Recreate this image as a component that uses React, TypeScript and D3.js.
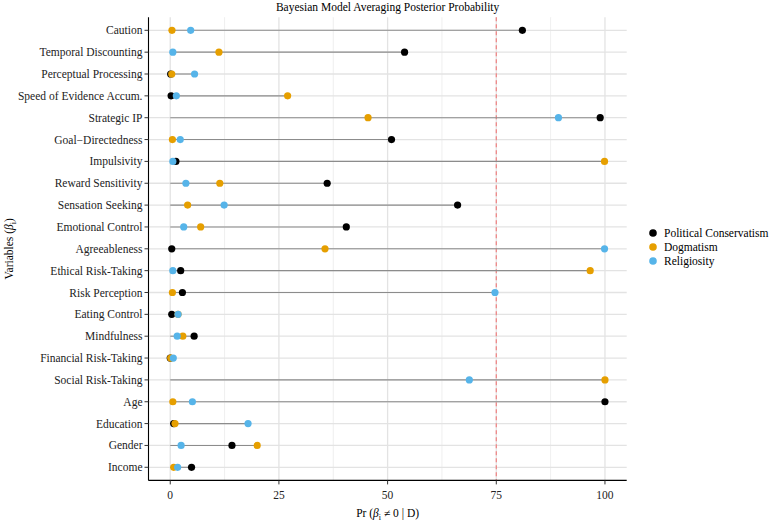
import React from "react";
import * as d3 from "d3";

const categories = [
  "Caution", "Temporal Discounting", "Perceptual Processing", "Speed of Evidence Accum.",
  "Strategic IP", "Goal\u2212Directedness", "Impulsivity", "Reward Sensitivity",
  "Sensation Seeking", "Emotional Control", "Agreeableness", "Ethical Risk-Taking",
  "Risk Perception", "Eating Control", "Mindfulness", "Financial Risk-Taking",
  "Social Risk-Taking", "Age", "Education", "Gender", "Income",
];
const conservatism: (number | null)[] = [81.0, 53.9, 0.1, 0.2, 98.9, 50.9, 1.3, 36.1, 66.1, 40.5, 0.35, 2.4, 2.8, 0.35, 5.5, 0.0, null, 100, 0.8, 14.2, 4.9];
const dogmatism: (number | null)[] = [0.4, 11.2, 0.35, 27.0, 45.5, 0.5, 99.9, 11.4, 4.0, 7.0, 35.6, 96.6, 0.5, 1.8, 2.9, 0.1, 100, 0.6, 1.1, 20.0, 0.8];
const religiosity: (number | null)[] = [4.7, 0.6, 5.6, 1.4, 89.3, 2.3, 0.6, 3.6, 12.4, 3.1, 99.9, 0.6, 74.7, 1.8, 1.6, 0.7, 68.8, 5.1, 17.9, 2.5, 1.7];
const seriesNames = ["Political Conservatism", "Dogmatism", "Religiosity"];
const seriesColors = ["#000000", "#E69F00", "#56B4E9"];
const xTicks = [0, 25, 50, 75, 100];
const xMinor = [12.5, 37.5, 62.5, 87.5];
const threshold = 75;

const FONT = "'Liberation Serif', 'Times New Roman', serif";

export default function App() {
  const W = 770, H = 525;
  const left = 148.5, right = 626.7, top = 17.2, bottom = 480.4;
  const x = d3.scaleLinear().domain([-5, 105]).range([left, right]);
  const y = d3.scalePoint<string>().domain(categories).range([top, bottom]).padding(0.6);
  const series = [conservatism, dogmatism, religiosity];
  const cx = (left + right) / 2;
  const cy = (top + bottom) / 2;

  return (
    <svg width={W} height={H} style={{ position: "absolute", left: 0, top: 0 }} fontFamily={FONT}>
      <rect x={0} y={0} width={W} height={H} fill="#fff" />
      {xMinor.map((t) => (
        <line key={"mi" + t} x1={x(t)} x2={x(t)} y1={top} y2={bottom} stroke="#ebebeb" strokeWidth={0.8} />
      ))}
      {xTicks.map((t) => (
        <line key={"ma" + t} x1={x(t)} x2={x(t)} y1={top} y2={bottom} stroke="#e3e3e3" strokeWidth={1.3} />
      ))}
      {categories.map((c) => (
        <line key={"hg" + c} x1={left} x2={right} y1={y(c)} y2={y(c)} stroke="#e3e3e3" strokeWidth={1.3} />
      ))}
      <line x1={x(threshold)} x2={x(threshold)} y1={top} y2={bottom} stroke="#F08080" strokeWidth={1.2} strokeDasharray="4,3" />
      {categories.map((c, i) => {
        const vals = series.map((s) => s[i]).filter((v): v is number => v != null);
        const mx = Math.max(...vals);
        return <line key={"sg" + c} x1={x(0)} x2={x(mx)} y1={y(c)} y2={y(c)} stroke="#8c8c8c" strokeWidth={1.1} />;
      })}
      {series.map((s, si) =>
        categories.map((c, i) =>
          s[i] == null ? null : (
            <circle key={"p" + si + c} cx={x(s[i] as number)} cy={y(c)} r={3.6} fill={seriesColors[si]} />
          )
        )
      )}
      <line x1={left} x2={left} y1={top} y2={bottom} stroke="#000" strokeWidth={1.1} />
      <line x1={left} x2={right} y1={bottom} y2={bottom} stroke="#000" strokeWidth={1.1} />
      {categories.map((c) => (
        <g key={"yt" + c}>
          <line x1={left - 4} x2={left} y1={y(c)} y2={y(c)} stroke="#333" strokeWidth={1} />
          <text x={left - 6} y={y(c)} dy="0.35em" textAnchor="end" fontSize={11.5} fill="#222">{c}</text>
        </g>
      ))}
      {xTicks.map((t) => (
        <g key={"xt" + t}>
          <line x1={x(t)} x2={x(t)} y1={bottom} y2={bottom + 4} stroke="#333" strokeWidth={1} />
          <text x={x(t)} y={bottom + 15} dy="0.35em" textAnchor="middle" fontSize={11.5} fill="#222">{t}</text>
        </g>
      ))}
      <text x={cx} y={11} textAnchor="middle" fontSize={11.5} fill="#000">Bayesian Model Averaging Posterior Probability</text>
      <text x={cx} y={517} textAnchor="middle" fontSize={11.5} fill="#000">
        Pr (<tspan fontStyle="italic">β</tspan><tspan fontSize={8} dy={3}>i</tspan><tspan dy={-3}> ≠ 0 | D)</tspan>
      </text>
      <text transform={`translate(13,${cy}) rotate(-90)`} textAnchor="middle" fontSize={11.5} fill="#000">
        Variables (<tspan fontStyle="italic">β</tspan><tspan fontSize={8} dy={3}>i</tspan><tspan dy={-3}>)</tspan>
      </text>
      {seriesNames.map((n, i) => (
        <g key={"lg" + n} transform={`translate(653,${233 + i * 14})`}>
          <circle cx={0} cy={0} r={3.8} fill={seriesColors[i]} />
          <text x={11} y={0} dy="0.35em" fontSize={11.5} fill="#000">{n}</text>
        </g>
      ))}
    </svg>
  );
}
